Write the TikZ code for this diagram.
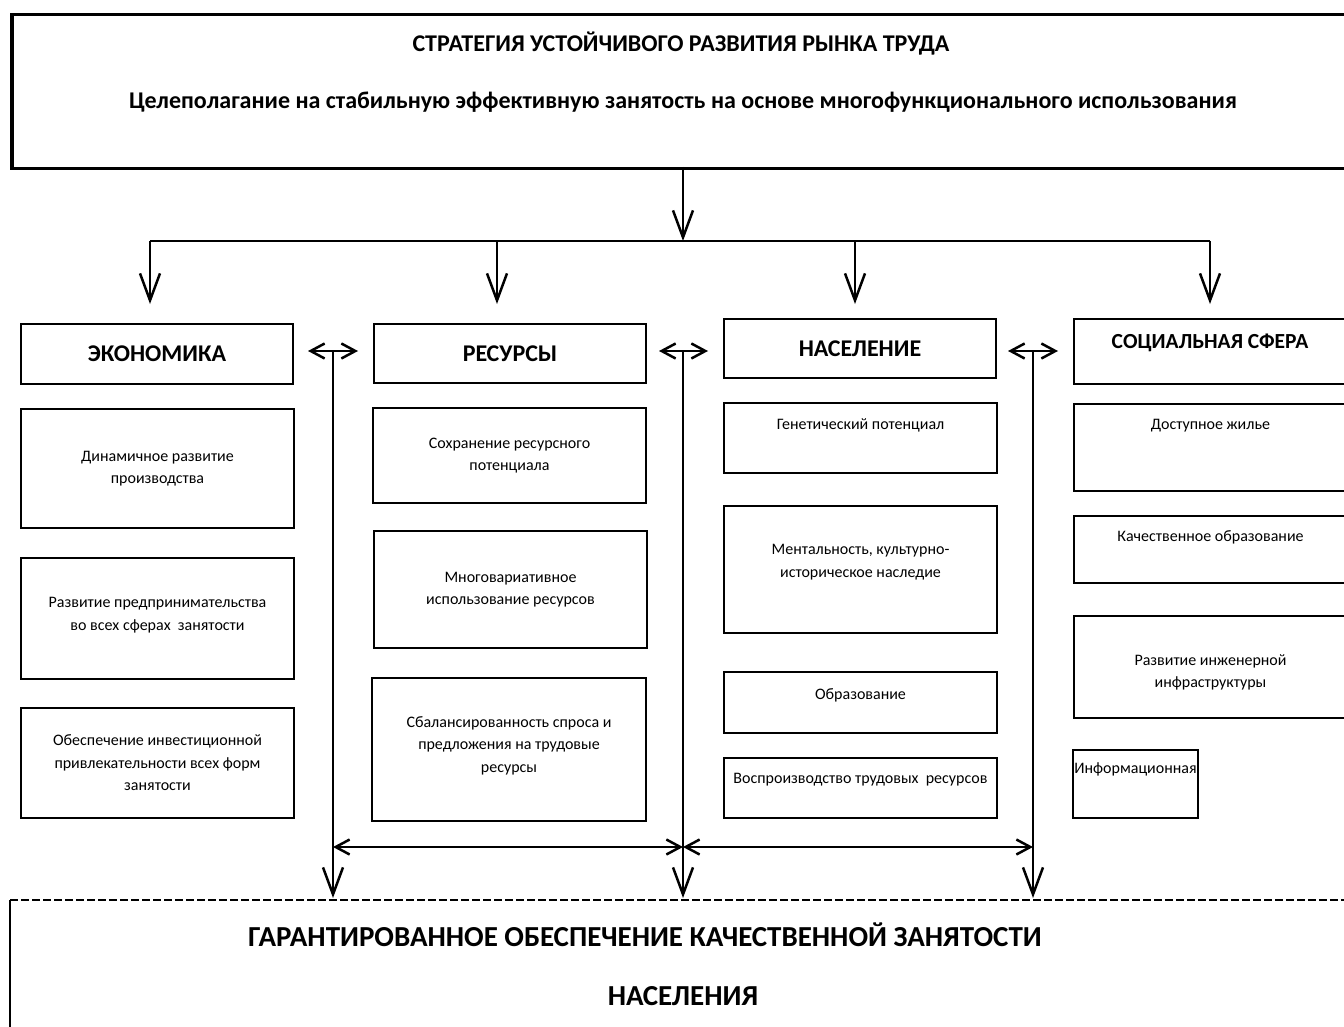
\documentclass[tikz,border=0pt]{standalone}
\usepackage{fontspec}
\setmainfont{Carlito}
\usetikzlibrary{arrows.meta}

\begin{document}
\begin{tikzpicture}[x=1pt, y=-1pt,
    bigbox/.style={draw, line width=3.5pt, anchor=north west, inner sep=0pt},
    headbox/.style={draw, line width=2pt, anchor=north west, minimum width=272, minimum height=60,
        font=\fontsize{24}{28}\selectfont\bfseries},
    subbox/.style={draw, line width=2pt, anchor=north west, minimum width=273, align=center,
        font=\fontsize{16}{22.5}\selectfont},
    toptext/.style={anchor=north, yshift=-13pt, align=center, font=\fontsize{16}{22.5}\selectfont},
    link/.style={line width=2.5pt, -{Straight Barb[length=27pt, width=20pt, line width=2.5pt]}},
    dbl/.style={line width=2.5pt, {Straight Barb[length=14pt, width=15pt, line width=2.5pt]}-{Straight Barb[length=14pt, width=15pt, line width=2.5pt]}}]

    \useasboundingbox (0,0) rectangle (1344,1027);
    \clip (0,0) rectangle (1344,1027);

    % --- 1. Strategy box ---
    \node[bigbox, minimum width=1346, minimum height=154] (strat) at (10,13) {};
    \node[font=\fontsize{24}{28}\selectfont\bfseries] (title1) at (681,44) {СТРАТЕГИЯ УСТОЙЧИВОГО РАЗВИТИЯ РЫНКА ТРУДА};
    \node[font=\fontsize{24}{28}\selectfont\bfseries] (title2) at (683,102) {Целеполагание на стабильную эффективную занятость на основе многофункционального использования};

    % --- 2. Distribution to the four blocks ---
    \coordinate (top) at (683,167);
    \coordinate (split) at (683,241);
    \coordinate (s1) at (150,241);
    \coordinate (s2) at (497,241);
    \coordinate (s3) at (855,241);
    \coordinate (s4) at (1210,241);
    \coordinate (a1) at (150,304);
    \coordinate (a2) at (497,304);
    \coordinate (a3) at (855,304);
    \coordinate (a4) at (1210,304);
    \draw[link] (top) -- (split);
    \draw[line width=2.5pt] (s1) -- (s4);
    \draw[link] (s1) -- (a1);
    \draw[link] (s2) -- (a2);
    \draw[link] (s3) -- (a3);
    \draw[link] (s4) -- (a4);

    % --- 3. Economy ---
    \node[headbox] (eco) at (20,323) {ЭКОНОМИКА};
    \node[subbox, minimum height=119] (eco1) at (20,408) {Динамичное развитие\\производства};
    \node[subbox, minimum height=121, label={[toptext, yshift=-24pt]north:Развитие предпринимательства\\во всех сферах\ \ занятости}] (eco2) at (20,557) {};
    \node[subbox, minimum height=110] (eco3) at (20,707) {Обеспечение инвестиционной\\привлекательности всех форм\\занятости};

    % --- 4. Resources ---
    \node[headbox, minimum height=59] (res) at (373,323) {РЕСУРСЫ};
    \node[subbox, minimum height=95] (res1) at (372,407) {Сохранение ресурсного\\потенциала};
    \node[subbox, minimum height=117] (res2) at (373,530) {Многовариативное\\использование ресурсов};
    \node[subbox, minimum width=274, minimum height=143, label={[toptext, yshift=-23pt]north:Сбалансированность спроса и\\предложения на трудовые\\ресурсы}] (res3) at (371,677) {};

    % --- 5. Population ---
    \node[headbox, minimum height=59] (pop) at (723,318) {НАСЕЛЕНИЕ};
    \node[subbox, minimum height=70, label={[toptext]north:Генетический потенциал}] (pop1) at (723,402) {};
    \node[subbox, minimum height=127, label={[toptext, yshift=-23pt]north:Ментальность, культурно-\\историческое наследие}] (pop2) at (723,505) {};
    \node[subbox, minimum height=61, label={[toptext, yshift=-1pt]north:Образование}] (pop3) at (723,671) {};
    \node[subbox, minimum height=60, label={[toptext]north:Воспроизводство трудовых\ \ ресурсов}] (pop4) at (723,757) {};

    % --- 6. Social sphere ---
    \node[headbox, minimum height=65, label={[anchor=north, yshift=-12pt, font=\fontsize{21.5}{24}\selectfont\bfseries]north:СОЦИАЛЬНАЯ СФЕРА}] (soc) at (1073,318) {};
    \node[subbox, minimum height=87, label={[toptext]north:Доступное жилье}] (soc1) at (1073,403) {};
    \node[subbox, minimum height=67, label={[toptext, yshift=1pt]north:Качественное образование}] (soc2) at (1073,515) {};
    \node[subbox, minimum height=102, label={[toptext, yshift=-23pt]north:Развитие инженерной\\инфраструктуры}] (soc3) at (1073,615) {};
    \node[subbox, minimum width=125, minimum height=68, label={[toptext, yshift=3pt]north:Информационная}] (soc4) at (1072,749) {};

    % --- 7. Links between the blocks ---
    \coordinate (v1) at (333,351);
    \coordinate (v2) at (683,351);
    \coordinate (v3) at (1033,351);
    \coordinate (b1) at (333,898);
    \coordinate (b2) at (683,898);
    \coordinate (b3) at (1033,898);
    \coordinate (l1) at (308,351);
    \coordinate (r1) at (358,351);
    \coordinate (l2) at (659,351);
    \coordinate (r2) at (708,351);
    \coordinate (l3) at (1008,351);
    \coordinate (r3) at (1058,351);
    \coordinate (h1) at (333,847);
    \coordinate (h2) at (683,847);
    \coordinate (h3) at (1033,847);
    \draw[dbl] (l1) -- (r1);
    \draw[dbl] (l2) -- (r2);
    \draw[dbl] (l3) -- (r3);
    \draw[link] (v1) -- (b1);
    \draw[link] (v2) -- (b2);
    \draw[link] (v3) -- (b3);
    \draw[dbl] (h1) -- (h2);
    \draw[dbl] (h2) -- (h3);

    % --- 8. Result box ---
    \node[anchor=north west, minimum width=1360, minimum height=160, inner sep=0pt] (guar) at (10,900) {};
    \draw[line width=2.5pt, dash pattern=on 8pt off 3pt] (guar.north west) -- (guar.north east);
    \draw[line width=2.5pt] (guar.north west) -- (guar.south west);
    \node[font=\fontsize{29}{33}\selectfont\bfseries] (guar1) at (645,935) {ГАРАНТИРОВАННОЕ ОБЕСПЕЧЕНИЕ КАЧЕСТВЕННОЙ ЗАНЯТОСТИ};
    \node[font=\fontsize{29}{33}\selectfont\bfseries] (guar2) at (683,996) {НАСЕЛЕНИЯ};

\end{tikzpicture}
\end{document}
